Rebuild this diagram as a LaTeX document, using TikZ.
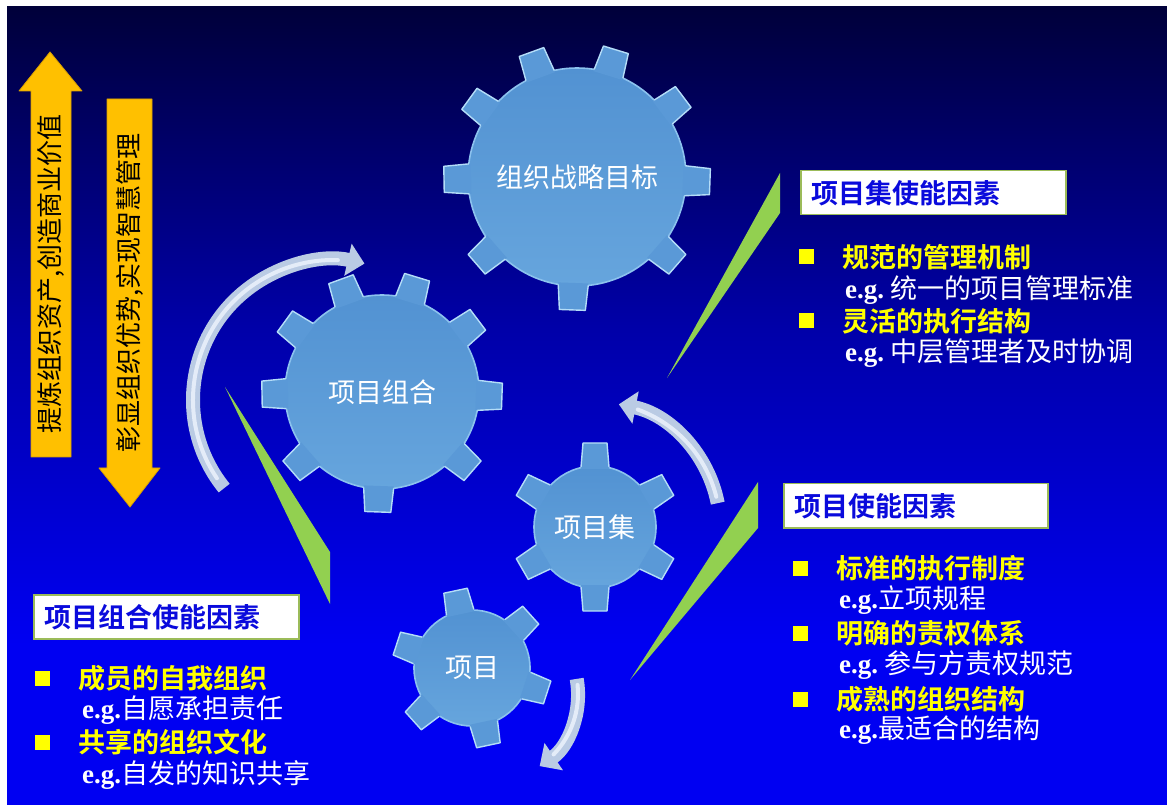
\documentclass[tikz,border=0pt]{standalone}
\usepackage{fontspec}
\setmainfont{Noto Sans CJK SC}[BoldFont={Noto Sans CJK SC Bold}]
\newfontfamily\egfont{Liberation Serif}
\usepackage{tikz}
\usetikzlibrary{positioning, arrows.meta}

\definecolor{bgTop}{HTML}{00003A}
\definecolor{bgMid}{HTML}{0000A8}
\definecolor{bgBot}{HTML}{0000F2}
\definecolor{gearTop}{HTML}{5292D2}
\definecolor{gearBot}{HTML}{66A5DD}
\definecolor{gearTooth}{HTML}{5A99D7}
\definecolor{gearEdge}{HTML}{B4DDF8}
\definecolor{gearRim}{HTML}{8CC2EE}
\definecolor{arcBase}{HTML}{BACBE4}
\definecolor{arcShine}{HTML}{E4ECF8}
\definecolor{wedgeGreen}{HTML}{92D050}
\definecolor{boxEdge}{HTML}{9BBB59}
\definecolor{titleBlue}{HTML}{0A0ADC}
\definecolor{keyYellow}{HTML}{FFFF00}
\definecolor{bannerGold}{HTML}{FFC000}
\definecolor{bannerEdge}{HTML}{D9A000}

% background: bright blue at the bottom, navy at the top
\pgfdeclareverticalshading{deepsky}{100bp}{color(0bp)=(bgBot); color(35bp)=(bgBot); color(55bp)=(bgMid); color(75bp)=(bgTop); color(100bp)=(bgTop)}

\newcommand{\eg}{{\egfont\bfseries e.g.}}
% teeth of a cog: centre, body radius, tip radius, half width, angles
\newcommand{\cogteeth}[5]{%
  \foreach \a in {#5} {
    \fill[cogtooth, shift={#1}, rotate=\a] (#2-3,-#4-2) -- (#3,-#4) -- (#3,#4) -- (#2-3,#4+2) -- cycle;
    \draw[cogedge, shift={#1}, rotate=\a] (#2-1,-#4-2) -- (#3,-#4) -- (#3,#4) -- (#2-1,#4+2);
  }
}

\begin{document}
\begin{tikzpicture}[
    x=1pt, y=1pt,
    cogtooth/.style={fill=gearTooth},
    cogedge/.style={draw=gearEdge, line width=1.4pt, line join=round},
    cogbody/.style={circle, inner sep=0pt, top color=gearTop, bottom color=gearBot, draw=gearRim, line width=1.6pt, text=white, font=\fontsize{27pt}{30pt}\selectfont},
    cyclearrow/.style={line width=14pt, draw=arcBase, -{Triangle[width=32pt, length=17pt]}},
    shine/.style={line width=4pt, draw=arcShine, line cap=round},
    wedge/.style={fill=wedgeGreen},
    banner/.style={fill=bannerGold, draw=bannerEdge, line width=0.8pt, line join=round},
    bannertext/.style={rotate=90, text=black, font=\fontsize{26pt}{28pt}\selectfont},
    titlebox/.style={draw=boxEdge, line width=1.5pt, fill=white, anchor=north west, text=titleBlue, font=\bfseries\fontsize{27pt}{30pt}\selectfont, inner xsep=11pt, align=left, minimum height=44pt},
    bulletsq/.style={fill=keyYellow, minimum size=15pt, inner sep=0pt},
    keyline/.style={anchor=west, text=keyYellow, font=\bfseries\fontsize{27pt}{30pt}\selectfont, inner sep=0pt},
    egline/.style={anchor=west, text=white, font=\fontsize{27pt}{30pt}\selectfont, inner sep=0pt}
]

\fill[white] (0,0) rectangle (1167,804);
\shade[shading=deepsky] (7,0) rectangle (1167,797);
\useasboundingbox (0,0) rectangle (1167,804);

% up and down banners on the left
\draw[banner] (31,347) -- (31,713) -- (19,713) -- (50,752) -- (82,713) -- (71,713) -- (71,347) -- cycle;
\node[bannertext] (upText) at (51,530) {提炼组织资产,创造商业价值};
\draw[banner] (107,705) -- (152,705) -- (152,336) -- (160,336) -- (130,297) -- (99,336) -- (107,336) -- cycle;
\node[bannertext] (downText) at (130,511) {彰显组织优势,实现智慧管理};

% green pointers
\fill[wedge] (667,426) -- (780,631) -- (780,591) -- cycle;
\fill[wedge] (630,124) -- (758,322) -- (758,276) -- cycle;
\fill[wedge] (225,417) -- (330,252) -- (330,200) -- cycle;

% cogs
\node[cogbody, minimum size=218pt] (goal) at (577,627) {组织战略目标};
\cogteeth{(577,627)}{109}{133}{13}{110,73,37,-2,-41,-92,-139,181,144}

\node[cogbody, minimum size=194pt] (combo) at (382,412) {项目组合};
\cogteeth{(382,412)}{97}{120}{13}{110,73,37,-2,-41,-92,-139,181,144}

\node[cogbody, minimum size=122pt] (set) at (595,277) {项目集};
\cogteeth{(595,277)}{61}{84}{12}{90,30,-30,-90,-150,150}

\node[cogbody, minimum size=116pt] (proj) at (472,136) {项目};
\cogteeth{(472,136)}{58}{79}{12}{102,42,-18,-78,-138,162}

% turning arrows
\coordinate (spinA) at (333,404);
\coordinate (spinC) at (491,110);
\draw[cyclearrow] ([shift={(219:140)}]spinA) arc[start angle=219, end angle=77, radius=140];
\draw[shine] ([shift={(214:140)}]spinA) arc[start angle=214, end angle=88, radius=140];
\draw[cyclearrow] ([shift={(11:125)}]set.center) arc[start angle=11, end angle=79, radius=125];
\draw[shine] ([shift={(14:125)}]set.center) arc[start angle=14, end angle=70, radius=125];
\draw[cyclearrow] ([shift={(10:87)}]spinC) arc[start angle=10, end angle=-56, radius=87];
\draw[shine] ([shift={(6:87)}]spinC) arc[start angle=6, end angle=-44, radius=87];

% enablers of the programme
\node[titlebox, text width=243pt] (setTitle) at (800,634) {项目集使能因素};
\node[bulletsq] (sb1) at (806,547) {};
\node[keyline, right=29pt of sb1] (sk1) {规范的管理机制};
\node[egline] (se1) at (845,514) {\eg\ 统一的项目管理标准};
\node[bulletsq] (sb2) at (806,483) {};
\node[keyline, right=29pt of sb2] (sk2) {灵活的执行结构};
\node[egline] (se2) at (845,451) {\eg\ 中层管理者及时协调};

% enablers of the project
\node[titlebox, text width=242pt] (projTitle) at (783,321) {项目使能因素};
\node[bulletsq] (pb1) at (800,236) {};
\node[keyline, right=29pt of pb1] (pk1) {标准的执行制度};
\node[egline] (pe1) at (839,204) {\eg 立项规程};
\node[bulletsq] (pb2) at (800,171) {};
\node[keyline, right=29pt of pb2] (pk2) {明确的责权体系};
\node[egline] (pe2) at (839,139) {\eg\ 参与方责权规范};
\node[bulletsq] (pb3) at (800,105) {};
\node[keyline, right=29pt of pb3] (pk3) {成熟的组织结构};
\node[egline] (pe3) at (839,74) {\eg 最适合的结构};

% enablers of the portfolio
\node[titlebox, text width=243pt] (comboTitle) at (33,210) {项目组合使能因素};
\node[bulletsq] (cb1) at (42,126) {};
\node[keyline, right=29pt of cb1] (ck1) {成员的自我组织};
\node[egline] (ce1) at (82,94) {\eg 自愿承担责任};
\node[bulletsq] (cb2) at (42,62) {};
\node[keyline, right=29pt of cb2] (ck2) {共享的组织文化};
\node[egline] (ce2) at (82,29) {\eg 自发的知识共享};

\end{tikzpicture}
\end{document}
